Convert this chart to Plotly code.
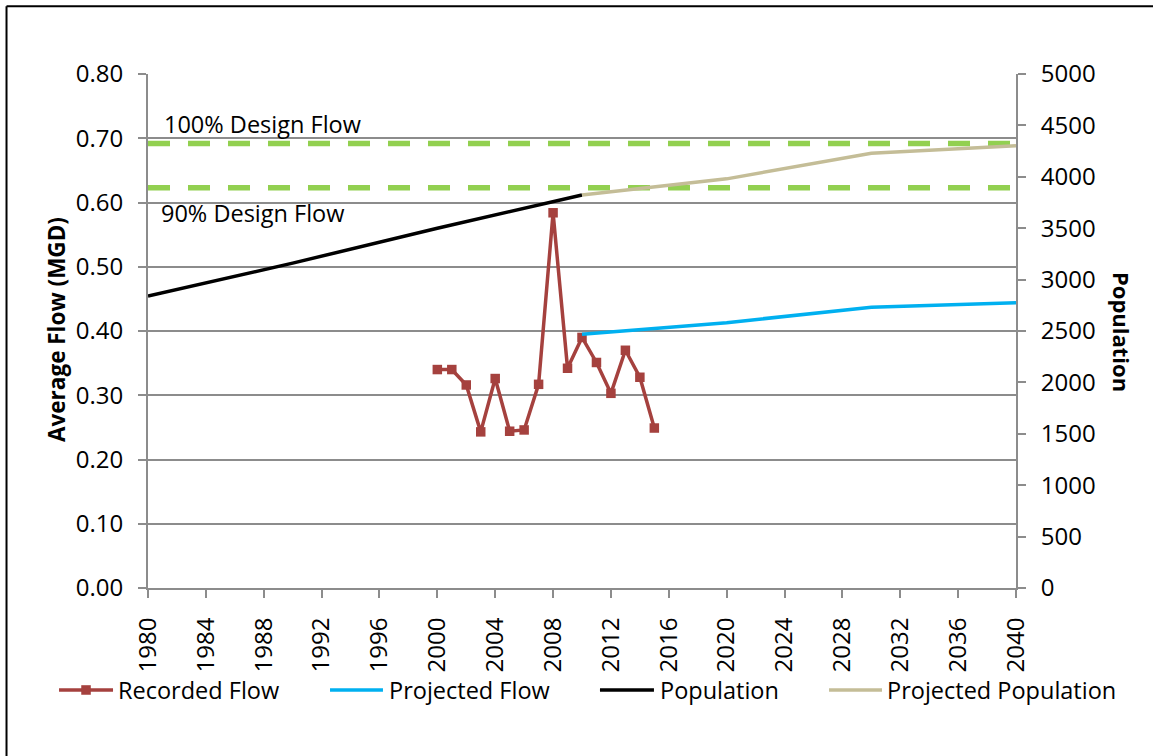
import plotly.graph_objects as go

# Recorded average daily flow (MGD)
recorded_years = [2000, 2001, 2002, 2003, 2004, 2005, 2006, 2007,
                  2008, 2009, 2010, 2011, 2012, 2013, 2014, 2015]
recorded_flow = [0.340, 0.340, 0.316, 0.243, 0.326, 0.244, 0.246, 0.317,
                 0.584, 0.342, 0.390, 0.351, 0.303, 0.370, 0.328, 0.249]

# Projected flow (MGD)
projected_flow_years = [2010, 2020, 2030, 2040]
projected_flow = [0.395, 0.413, 0.437, 0.444]

# Population (census) and projection
population_years = [1980, 1990, 2000, 2010]
population = [2840, 3160, 3500, 3823]
projected_pop_years = [2010, 2020, 2030, 2040]
projected_population = [3823, 3980, 4230, 4303]

# Design flow limits (MGD)
design_years = [1980, 2040]
design_flow_100 = 0.692
design_flow_90 = 0.623

FONT = "Open Sans"
GRID = "#8C8C8C"
RED = "#A5413E"
BLUE = "#00B0F0"
BLACK = "#000000"
TAN = "#C4BD97"
GREEN = "#92D050"

fig = go.Figure()

for level in (design_flow_100, design_flow_90):
    fig.add_trace(go.Scatter(
        x=design_years, y=[level] * 2, mode="lines",
        line=dict(color=GREEN, width=5.5, dash="22px,18px"),
        showlegend=False, hoverinfo="skip"))

fig.add_trace(go.Scatter(
    x=recorded_years, y=recorded_flow, name="Recorded Flow",
    mode="lines+markers", line=dict(color=RED, width=3.5),
    marker=dict(symbol="square", size=9.5, color=RED)))
fig.add_trace(go.Scatter(
    x=projected_flow_years, y=projected_flow, name="Projected Flow",
    mode="lines", line=dict(color=BLUE, width=3.5)))
fig.add_trace(go.Scatter(
    x=population_years, y=population, name="Population",
    mode="lines", line=dict(color=BLACK, width=3.5), yaxis="y2"))
fig.add_trace(go.Scatter(
    x=projected_pop_years, y=projected_population, name="Projected Population",
    mode="lines", line=dict(color=TAN, width=3.5), yaxis="y2"))

# Legend row drawn beneath the axis: (sample x0, sample x1, text x, colour, label)
legend_y = -0.1984
legend_items = [
    (-0.1025, -0.0403, -0.0370, RED, "Recorded Flow"),
    (0.2097, 0.2707, 0.2750, BLUE, "Projected Flow"),
    (0.5207, 0.5829, 0.5872, BLACK, "Population"),
    (0.7846, 0.8456, 0.8490, TAN, "Projected Population"),
]

shapes = [
    # frame (top and left edges)
    dict(type="line", xref="paper", yref="paper", x0=-0.163, x1=1.2,
         y0=1.132, y1=1.132, line=dict(color=BLACK, width=2)),
    dict(type="line", xref="paper", yref="paper", x0=-0.163, x1=-0.163,
         y0=1.132, y1=-0.4, line=dict(color=BLACK, width=2)),
]
annotations = [
    dict(text="100% Design Flow", xref="paper", yref="y", x=0.016, y=0.722,
         xanchor="left", yanchor="middle", showarrow=False,
         font=dict(family=FONT, size=23.5)),
    dict(text="90% Design Flow", xref="paper", yref="y", x=0.0131, y=0.583,
         xanchor="left", yanchor="middle", showarrow=False,
         font=dict(family=FONT, size=23.5)),
    dict(text="<b>Average Flow (MGD)</b>", xref="paper", yref="paper",
         x=-0.1048, y=0.502, textangle=-90, showarrow=False,
         xanchor="center", yanchor="middle", font=dict(family=FONT, size=22.5)),
    dict(text="<b>Population</b>", xref="paper", yref="paper",
         x=1.1222, y=0.498, textangle=90, showarrow=False,
         xanchor="center", yanchor="middle", font=dict(family=FONT, size=22)),
]
for x0, x1, tx, col, label in legend_items:
    shapes.append(dict(type="line", xref="paper", yref="paper", x0=x0, x1=x1,
                       y0=legend_y, y1=legend_y, line=dict(color=col, width=3.5)))
    annotations.append(dict(text=label, xref="paper", yref="paper", x=tx, y=legend_y,
                            xanchor="left", yanchor="middle", showarrow=False,
                            font=dict(family=FONT, size=23.5)))
# square marker on the Recorded Flow sample
mx = (legend_items[0][0] + legend_items[0][1]) / 2
shapes.append(dict(type="rect", xref="paper", yref="paper",
                   x0=mx - 0.0055, x1=mx + 0.0055,
                   y0=legend_y - 0.0093, y1=legend_y + 0.0093,
                   fillcolor=RED, line=dict(width=0)))

axis_common = dict(showline=True, linecolor=GRID, linewidth=2, zeroline=False,
                   ticks="outside", ticklen=8, tickcolor=GRID, tickwidth=2,
                   tickfont=dict(family=FONT, size=24, color=BLACK))

fig.update_layout(
    width=1153, height=756,
    margin=dict(l=148, r=137, t=74, b=168),
    paper_bgcolor="white", plot_bgcolor="white",
    font=dict(family=FONT, size=23, color=BLACK),
    showlegend=False,
    xaxis=dict(range=[1980, 2040], tick0=1980, dtick=4, tickangle=-90,
               showgrid=False, ticklabelstandoff=10, **axis_common),
    yaxis=dict(range=[0, 0.8], dtick=0.1, tickformat=".2f",
               showgrid=True, gridcolor=GRID, gridwidth=2,
               ticklabelstandoff=10, **axis_common),
    yaxis2=dict(range=[0, 5000], dtick=500, overlaying="y", side="right",
                showgrid=False, ticklabelstandoff=10, **axis_common),
    annotations=annotations,
    shapes=shapes,
)

fig.write_html("out.html")
